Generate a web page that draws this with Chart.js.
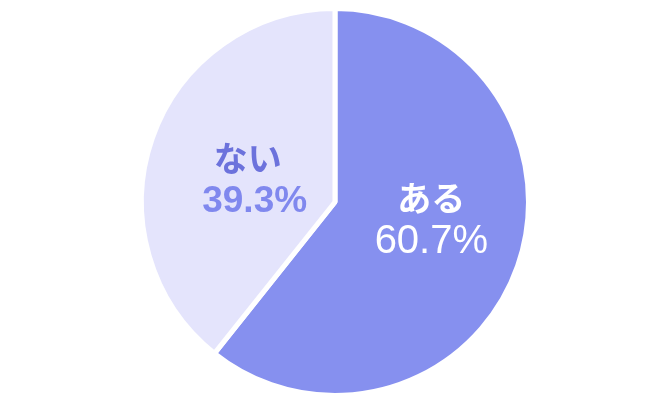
<!DOCTYPE html>
<html lang="ja">
<head>
<meta charset="utf-8">
<script src="https://cdn.jsdelivr.net/npm/chart.js@4/dist/chart.umd.min.js"></script>
<style>
  html, body { margin: 0; padding: 0; background: #fff; }
  #wrap { width: 670px; height: 413px; }
</style>
</head>
<body>
<div id="wrap"><canvas id="pieChart" width="670" height="413"></canvas></div>
<script>
// 回答データ
const labels = ["ある", "ない"];
const values = [60.7, 39.3];
const sliceColors = ["#8690ef", "#e4e4fc"];
const nameColors = ["#ffffff", "#6c72dc"];
const pctColors = ["#ffffff", "#8088ee"];

// ラベルを各スライスの中に描く
const sliceLabels = {
  id: "sliceLabels",
  afterDatasetsDraw(chart) {
    const ctx = chart.ctx;
    const arcs = chart.getDatasetMeta(0).data;
    const shift = [{ x: 5, y: -14 }, { x: 11, y: 10 }];
    arcs.forEach((arc, i) => {
      const p = arc.getCenterPoint();
      const cx = p.x + shift[i].x;
      const cy = p.y + shift[i].y;
      ctx.save();
      ctx.textAlign = "center";
      ctx.textBaseline = "middle";
      ctx.fillStyle = nameColors[i];
      ctx.font = "bold 34px 'Noto Sans CJK JP'";
      ctx.fillText(labels[i], cx - (i ? 7 : 0), cy - 22);
      ctx.fillStyle = pctColors[i];
      ctx.font = i ? "bold 37px 'Liberation Sans'" : "40px 'Liberation Sans'";
      ctx.fillText(values[i].toFixed(1) + "%", cx, cy + 22);
      ctx.restore();
    });
  }
};

new Chart(document.getElementById("pieChart"), {
  type: "pie",
  data: {
    labels: labels,
    datasets: [{
      data: values,
      backgroundColor: sliceColors,
      borderColor: "#ffffff",
      borderWidth: 5,
      hoverOffset: 0
    }]
  },
  options: {
    responsive: false,
    animation: false,
    layout: { padding: { top: 6, bottom: 15 } },
    plugins: {
      legend: { display: false },
      tooltip: { enabled: false }
    }
  },
  plugins: [sliceLabels]
});
</script>
</body>
</html>
